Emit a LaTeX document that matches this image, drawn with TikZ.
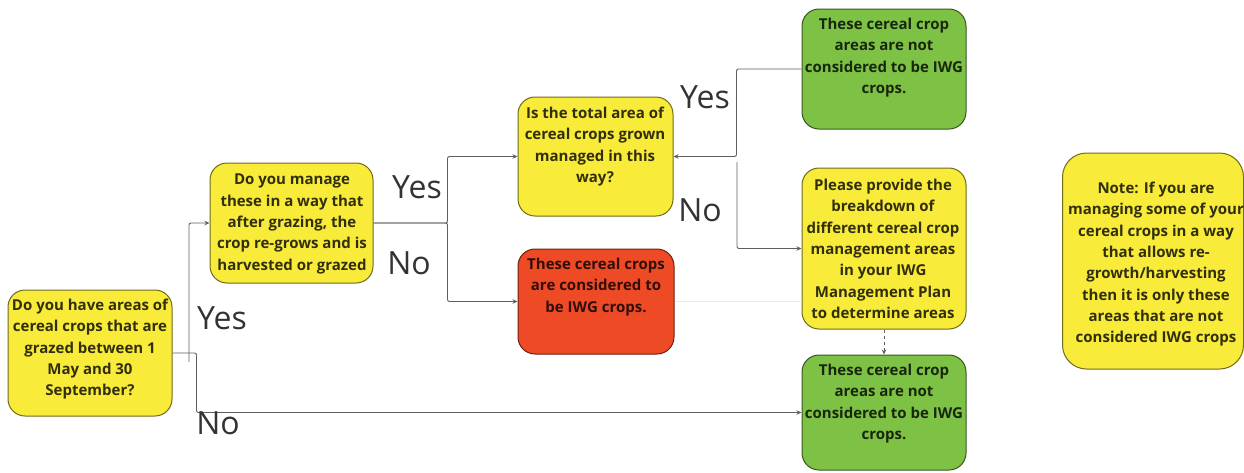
\documentclass[tikz,border=0pt]{standalone}
\usepackage{fontspec}
\setmainfont{Open Sans}
\usetikzlibrary{arrows.meta,calc}
\definecolor{ylw}{HTML}{F8EB3A}
\definecolor{grn}{HTML}{7DC244}
\definecolor{rd}{HTML}{EE4A26}
\definecolor{lnc}{HTML}{5F5F5F}
\tikzset{
  box/.style={rectangle, rounded corners=17pt, line width=1pt, inner sep=0pt},
  ybox/.style={box, fill=ylw, draw=ylw!45!black},
  gbox/.style={box, fill=grn, draw=grn!45!black},
  rbox/.style={box, fill=rd, draw=rd!45!black},
  txt/.style={font=\bfseries\fontsize{15}{21.3}\selectfont, align=center, inner sep=0pt, text=black, text opacity=0.8, anchor=north},
  lbl/.style={font=\fontsize{32}{32}\selectfont, text=black!80, inner sep=0pt, text depth=0pt},
  conn/.style={draw=lnc, line width=0.9pt, rounded corners=2pt},
  arr/.style={conn, -{Stealth[length=5pt,width=4.5pt]}},
}
\begin{document}
\begin{tikzpicture}[x=1pt,y=-1pt]
\useasboundingbox (0,0) rectangle (1244,472);
% boxes
\node[ybox, minimum width=164pt, minimum height=126pt] (q1) at (90,353) {};
\node[ybox, minimum width=163pt, minimum height=120pt] (q2) at (291.5,223) {};
\node[ybox, minimum width=155pt, minimum height=119pt] (q3) at (595.5,156.5) {};
\node[rbox, minimum width=156pt, minimum height=105pt] (red) at (596,301.5) {};
\node[gbox, minimum width=164pt, minimum height=120pt] (gtop) at (884,69) {};
\node[ybox, minimum width=164pt, minimum height=161pt] (please) at (884,248.5) {};
\node[gbox, minimum width=164pt, minimum height=115pt] (gbot) at (884,412.5) {};
\node[ybox, rounded corners=24pt, minimum width=181pt, minimum height=216pt] (note) at (1153,261) {};
% texts
\node[txt] (q1t) at (90,299) {Do you have areas of\\cereal crops that are\\grazed between 1\\May and 30\\September?};
\node[txt] (q2t) at (292,174) {Do you manage\\these in a way that\\after grazing, the\\crop re-grows and is\\harvested or grazed};
\node[txt] (q3t) at (595,107) {Is the total area of\\cereal crops grown\\managed in this\\way?};
\node[txt] (redt) at (596,258) {These cereal crops\\are considered to\\be IWG crops.};
\node[txt] (gtopt) at (884,18) {These cereal crop\\areas are not\\considered to be IWG\\crops.};
\node[txt] (pleaset) at (883,179) {Please provide the\\breakdown of\\different cereal crop\\management areas\\in your IWG\\Management Plan\\to determine areas};
\node[txt] (gbott) at (884,364) {These cereal crop\\areas are not\\considered to be IWG\\crops.};
\node[txt] (notet) at (1156,182) {Note: If you are\\managing some of your\\cereal crops in a way\\that allows re-\\growth/harvesting\\then it is only these\\areas that are not\\considered IWG crops};
% connectors
\coordinate (y1) at (189,362);
\coordinate (n3) at (737,162);
\draw[arr] (q1.east) -- ++(24,0) |- (gbot.west);
\draw[arr] (y1) |- (q2.west);
\draw[arr] (q2.east) -- ++(74,0) |- (q3.west);
\draw[arr] (q2.east) -- ++(74,0) |- (red.west);
\draw[arr] (gtop.west) -- ++(-65,0) |- (q3.east);
\draw[arr] (n3) |- (please.west);
\draw[draw=black!8, line width=0.8pt] (red.east) -- (red.east -| please.west);
\draw[draw=lnc, line width=0.8pt, dashed, -{Stealth[length=5pt,width=4.5pt]}] (please.south) -- (gbot.north);
% labels
\node[lbl] (l1) at (222,318) {Yes};
\node[lbl] (l2) at (218,423) {No};
\node[lbl] (l3) at (417,187) {Yes};
\node[lbl] (l4) at (409,263) {No};
\node[lbl] (l5) at (705,97) {Yes};
\node[lbl] (l6) at (700,210) {No};
\end{tikzpicture}
\end{document}
